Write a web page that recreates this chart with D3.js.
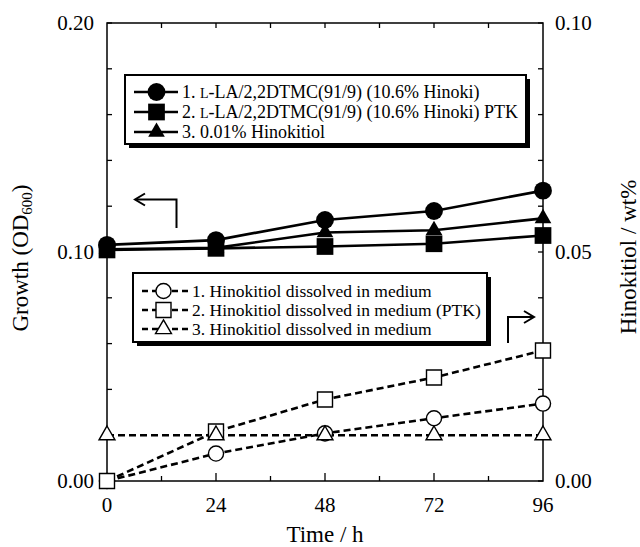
<!DOCTYPE html>
<html>
<head>
<meta charset="utf-8">
<script src="https://cdn.jsdelivr.net/npm/d3@7"></script>
<style>
  body { margin: 0; background: #fff; }
  text { font-family: "Liberation Serif", "DejaVu Serif", serif; fill: #000; }
</style>
</head>
<body>
<div id="chart"></div>
<script>
// time points (h)
let hours = [0, 24, 48, 72, 96];

// growth, OD600 (left axis)
let growthFilm = [0.1031, 0.1052, 0.1140, 0.1179, 0.1268];
let growthFilmPTK = [0.1009, 0.1016, 0.1024, 0.1036, 0.1072];
let growthHinokitiol = [0.1012, 0.1018, 0.1085, 0.1095, 0.1147];

// hinokitiol dissolved in medium, wt% (right axis)
let dissolvedFilm = [0, 0.0060, 0.0104, 0.0137, 0.0169];
let dissolvedFilmPTK = [0, 0.0108, 0.0178, 0.0226, 0.0285];
let dissolvedHinokitiol = [0.0100, 0.0100, 0.0100, 0.0100, 0.0100];

let xTicks = [0, 24, 48, 72, 96];
let leftTicks = [0.00, 0.10, 0.20];
let rightTicks = [0.00, 0.05, 0.10];

let legendSolid = ["1. |L|-LA/2,2DTMC(91/9) (10.6% Hinoki)", "2. |L|-LA/2,2DTMC(91/9) (10.6% Hinoki) PTK", "3. 0.01% Hinokitiol"];
let legendDashed = ["1. Hinokitiol dissolved in medium", "2. Hinokitiol dissolved in medium (PTK)", "3. Hinokitiol dissolved in medium"];

let width = 640;
let height = 547;
let plotLeft = 107, plotRight = 543, plotTop = 23, plotBottom = 481;

let chart = d3.select("#chart").append("svg")
    .attr("width", width).attr("height", height)

let xscale = d3.scaleLinear().domain([0, 96]).range([plotLeft, plotRight])
let yLeft = d3.scaleLinear().domain([0, 0.2]).range([plotBottom, plotTop])
let yRight = d3.scaleLinear().domain([0, 0.1]).range([plotBottom, plotTop])

// frame
chart.append("rect")
    .attr("x", plotLeft).attr("y", plotTop)
    .attr("width", plotRight - plotLeft).attr("height", plotBottom - plotTop)
    .attr("fill", "none").attr("stroke", "#000").attr("stroke-width", 1.5)

// inward ticks
let xMinor = d3.range(0, 97, 12);
let yMinor = d3.range(0, 0.2001, 0.02);
let tickG = chart.append("g").attr("stroke", "#000").attr("stroke-width", 1.3)
xMinor.forEach(function (t) {
    let len = t % 24 == 0 ? 8 : 5;
    if (t == 0 || t == 96) return;
    tickG.append("line").attr("x1", xscale(t)).attr("x2", xscale(t)).attr("y1", plotBottom).attr("y2", plotBottom - len)
    tickG.append("line").attr("x1", xscale(t)).attr("x2", xscale(t)).attr("y1", plotTop).attr("y2", plotTop + 5)
})
yMinor.forEach(function (v) {
    let y = yLeft(v);
    tickG.append("line").attr("x1", plotLeft).attr("x2", plotLeft + 5).attr("y1", y).attr("y2", y)
    tickG.append("line").attr("x1", plotRight).attr("x2", plotRight - 5).attr("y1", y).attr("y2", y)
})

// tick labels
chart.selectAll(".xlab").data(xTicks).enter().append("text")
    .attr("x", d => xscale(d)).attr("y", 512)
    .attr("text-anchor", "middle").style("font-size", "21px")
    .text(d => d)
chart.selectAll(".ylab").data(leftTicks).enter().append("text")
    .attr("x", plotLeft - 13).attr("y", d => yLeft(d) + 7)
    .attr("text-anchor", "end").style("font-size", "21px")
    .text(d => d.toFixed(2))
chart.selectAll(".rlab").data(rightTicks).enter().append("text")
    .attr("x", plotRight + 12).attr("y", d => yRight(d) + 7)
    .attr("text-anchor", "start").style("font-size", "21px")
    .text(d => d.toFixed(2))

// axis titles
chart.append("text")
    .attr("x", (plotLeft + plotRight) / 2).attr("y", 542)
    .attr("text-anchor", "middle").style("font-size", "23px")
    .text("Time / h")

let gTitle = chart.append("text")
    .attr("transform", "translate(28,258) rotate(-90)")
    .attr("text-anchor", "middle").style("font-size", "23px")
gTitle.append("tspan").text("Growth (OD")
gTitle.append("tspan").attr("dy", 4).style("font-size", "15px").text("600")
gTitle.append("tspan").attr("dy", -4).text(")")

chart.append("text")
    .attr("transform", "translate(636,257) rotate(-90)")
    .attr("text-anchor", "middle").style("font-size", "23px")
    .text("Hinokitiol / wt%")

// series
let solidSeries = [
    { values: growthFilm, symbol: d3.symbolCircle, size: 250 },
    { values: growthFilmPTK, symbol: d3.symbolSquare, size: 280 },
    { values: growthHinokitiol, symbol: d3.symbolTriangle, size: 120 }
];
let dashedSeries = [
    { values: dissolvedFilm, symbol: d3.symbolCircle, size: 180 },
    { values: dissolvedFilmPTK, symbol: d3.symbolSquare, size: 225 },
    { values: dissolvedHinokitiol, symbol: d3.symbolTriangle, size: 110 }
];

let lineLeft = d3.line().x((d, i) => xscale(hours[i])).y(d => yLeft(d))
let lineRight = d3.line().x((d, i) => xscale(hours[i])).y(d => yRight(d))

dashedSeries.forEach(function (s) {
    chart.append("path").attr("d", lineRight(s.values))
        .attr("fill", "none").attr("stroke", "#000").attr("stroke-width", 2.6)
        .attr("stroke-dasharray", "7,4")
})
dashedSeries.forEach(function (s) {
    chart.selectAll(null).data(s.values).enter().append("path")
        .attr("transform", (d, i) => "translate(" + xscale(hours[i]) + "," + yRight(d) + ")")
        .attr("d", d3.symbol().type(s.symbol).size(s.size))
        .attr("fill", "#fff").attr("stroke", "#000").attr("stroke-width", 1.4)
})

solidSeries.forEach(function (s) {
    chart.append("path").attr("d", lineLeft(s.values))
        .attr("fill", "none").attr("stroke", "#000").attr("stroke-width", 2.6)
})
solidSeries.forEach(function (s) {
    chart.selectAll(null).data(s.values).enter().append("path")
        .attr("transform", (d, i) => "translate(" + xscale(hours[i]) + "," + yLeft(d) + ")")
        .attr("d", d3.symbol().type(s.symbol).size(s.size))
        .attr("fill", "#000")
})

// legend boxes with shadow
function legendBox(x, y, w, h) {
    chart.append("rect").attr("x", x + 4).attr("y", y + 4).attr("width", w).attr("height", h).attr("fill", "#000")
    chart.append("rect").attr("x", x).attr("y", y).attr("width", w).attr("height", h)
        .attr("fill", "#fff").attr("stroke", "#000").attr("stroke-width", 2)
}

legendBox(125, 75, 401, 69)
solidSeries.forEach(function (s, i) {
    let y = 92 + i * 20;
    chart.append("line").attr("x1", 134).attr("x2", 178).attr("y1", y).attr("y2", y)
        .attr("stroke", "#000").attr("stroke-width", 2.6)
    chart.append("path").attr("transform", "translate(156.5," + y + ")")
        .attr("d", d3.symbol().type(s.symbol).size(s.size)).attr("fill", "#000")
    let t = chart.append("text").attr("x", 182).attr("y", y + 6).style("font-size", "18px")
    legendSolid[i].split("|").forEach(function (part, k) {
        let sp = t.append("tspan").text(part)
        if (k == 1) sp.style("font-size", "14px")
    })
})

legendBox(133, 273, 354, 69)
dashedSeries.forEach(function (s, i) {
    let y = 291 + i * 19;
    chart.append("line").attr("x1", 142).attr("x2", 188).attr("y1", y).attr("y2", y)
        .attr("stroke", "#000").attr("stroke-width", 2.6).attr("stroke-dasharray", "6,4")
    chart.append("path").attr("transform", "translate(163.5," + y + ")")
        .attr("d", d3.symbol().type(s.symbol).size(s.size))
        .attr("fill", "#fff").attr("stroke", "#000").attr("stroke-width", 1.4)
    chart.append("text").attr("x", 192).attr("y", y + 6).style("font-size", "17.5px")
        .text(legendDashed[i])
})

// axis pointers
let arrowStyle = g => g.attr("fill", "none").attr("stroke", "#000").attr("stroke-width", 2)
chart.append("path").attr("d", "M176.5,228 V199.5 H136").call(arrowStyle)
chart.append("path").attr("d", "M145,193.5 L135,199.5 L145,205.5").call(arrowStyle)
chart.append("path").attr("d", "M508,343 V317 H533").call(arrowStyle)
chart.append("path").attr("d", "M524,311 L534,317 L524,323").call(arrowStyle)
</script>
</body>
</html>
